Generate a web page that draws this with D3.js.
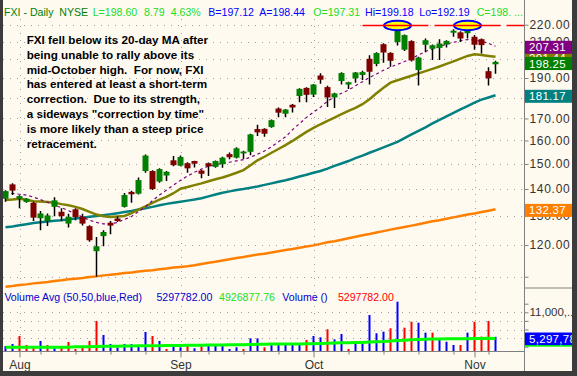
<!DOCTYPE html>
<html>
<head>
<meta charset="utf-8">
<script src="https://cdn.jsdelivr.net/npm/d3@7"></script>
<style>
  body { margin: 0; background: #fffaf0; }
  svg { display: block; font-family: Arial, "Liberation Sans", sans-serif; }
</style>
</head>
<body>
<div id="chart"></div>
<script>
// FXI daily, Jul 30 - Nov 6 2007
const dates = [
  "2007-07-30","2007-07-31",
  "2007-08-01","2007-08-02","2007-08-03","2007-08-06","2007-08-07","2007-08-08","2007-08-09","2007-08-10",
  "2007-08-13","2007-08-14","2007-08-15","2007-08-16","2007-08-17","2007-08-20","2007-08-21","2007-08-22",
  "2007-08-23","2007-08-24","2007-08-27","2007-08-28","2007-08-29","2007-08-30","2007-08-31",
  "2007-09-04","2007-09-05","2007-09-06","2007-09-07","2007-09-10","2007-09-11","2007-09-12","2007-09-13",
  "2007-09-14","2007-09-17","2007-09-18","2007-09-19","2007-09-20","2007-09-21","2007-09-24","2007-09-25",
  "2007-09-26","2007-09-27","2007-09-28",
  "2007-10-01","2007-10-02","2007-10-03","2007-10-04","2007-10-05","2007-10-08","2007-10-09","2007-10-10",
  "2007-10-11","2007-10-12","2007-10-15","2007-10-16","2007-10-17","2007-10-18","2007-10-19","2007-10-22",
  "2007-10-23","2007-10-24","2007-10-25","2007-10-26","2007-10-29","2007-10-30","2007-10-31",
  "2007-11-01","2007-11-02","2007-11-05","2007-11-06"
];

const open = [136.3,141.8,136.3,135.1,134.8,129.2,128.2,133.3,131.5,127.3,
  132.4,129.7,126.4,118.0,123.0,127.6,129.1,133.3,138.9,138.2,
  147.1,147.1,142.9,145.3,151.5,149.3,150.3,151.2,147.3,150.3,
  148.8,149.9,154.1,152.6,154.4,155.1,165.1,165.2,166.0,174.7,
  172.2,176.5,180.8,184.9,181.5,191.3,185.3,180.1,188.4,186.6,
  189.8,191.6,200.3,197.5,208.5,203.6,209.7,205.4,210.3,194.2,
  208.2,205.9,206.4,208.3,215.2,215.4,214.9,212.8,211.4,193.6,197.31];
const high = [139.5,142.2,137.6,136.5,135.2,131.8,130.9,136.9,132.8,130.8,
  132.8,130.8,126.7,122.7,125.0,128.2,129.9,138.5,139.3,144.5,
  153.9,147.4,148.2,147.1,153.3,153.5,150.7,151.3,147.6,150.6,
  151.4,153.0,154.8,157.0,155.5,163.0,167.1,165.5,169.5,175.2,
  174.5,176.9,184.7,185.2,186.9,192.5,186.0,182.4,193.0,188.1,
  193.2,193.8,202.2,203.9,209.0,204.0,220.9,214.2,210.8,201.4,
  211.8,208.3,211.3,210.8,217.2,216.0,221.5,213.9,211.8,195.7,199.18];
const low = [135.2,137.7,132.8,134.8,128.2,125.0,126.5,129.9,128.2,125.9,
  128.5,126.6,121.1,110.0,119.6,123.6,127.9,133.1,134.8,137.9,
  146.4,139.6,142.4,143.1,149.1,149.1,146.4,148.5,144.2,145.1,
  148.4,148.4,151.9,152.3,152.0,153.6,162.0,161.7,165.7,170.5,
  170.5,172.8,177.7,177.7,180.3,187.0,175.4,175.0,186.6,184.3,
  187.5,189.0,186.6,196.3,198.1,196.0,207.7,204.6,198.8,186.1,
  204.0,199.6,199.6,206.6,212.8,209.8,211.8,205.3,203.3,186.1,192.19];
const close = [139.2,139.4,137.3,136.3,129.4,130.9,130.2,135.7,129.9,129.7,
  129.6,127.3,121.6,119.6,124.4,126.6,128.2,137.7,138.0,143.5,
  153.5,140.0,147.9,146.8,149.5,152.9,148.2,150.1,146.0,149.0,
  151.2,152.6,152.8,156.6,155.2,162.7,163.6,163.0,169.2,172.7,
  174.2,175.2,184.4,181.4,186.6,189.1,180.1,182.1,192.6,187.8,
  192.9,193.1,193.3,203.5,203.8,199.2,219.8,213.8,199.4,201.0,
  210.8,207.9,208.9,210.4,216.4,211.8,219.8,208.2,208.0,189.81,198.60];

// volume in millions of shares
const volume = [3.16,3.63,5.49,3.40,2.86,4.33,3.40,2.77,2.70,4.09,
  2.47,3.00,4.33,8.98,5.72,3.63,2.86,3.63,3.63,3.16,
  6.42,5.49,4.33,2.47,3.63,2.86,3.40,2.63,3.16,3.63,
  3.16,3.63,2.47,2.86,2.47,4.95,4.95,2.86,3.63,3.63,
  3.40,3.40,3.63,4.56,5.49,5.19,7.05,4.72,5.95,2.47,
  3.63,3.63,10.37,6.12,6.49,7.28,13.47,7.42,8.81,8.58,
  6.26,6.26,4.95,4.16,3.40,3.40,6.26,8.81,5.35,8.98,5.30];
const volAvg = [2.85,2.85,2.86,2.86,2.87,2.87,2.88,2.88,2.90,2.90,
  3.00,3.00,3.00,3.05,3.10,3.10,3.10,3.15,3.15,3.20,
  3.20,3.25,3.25,3.30,3.30,3.30,3.35,3.35,3.35,3.40,
  3.40,3.40,3.45,3.45,3.45,3.50,3.55,3.55,3.60,3.60,
  3.60,3.65,3.65,3.70,3.70,3.75,3.80,3.85,3.90,3.90,
  3.95,3.95,4.10,4.15,4.20,4.30,4.45,4.50,4.60,4.70,
  4.75,4.80,4.80,4.82,4.83,4.84,4.86,4.90,4.90,4.95,4.93];

// moving averages
const ma10 = [138.6,138.3,138.0,137.7,136.9,136.0,135.0,133.9,133.0,131.9,
  130.8,129.6,128.5,127.7,127.2,127.2,127.7,128.8,129.8,131.6,
  133.3,135.6,137.7,139.6,141.5,143.4,145.1,146.6,147.9,149.1,
  149.7,150.2,150.7,151.3,151.8,152.8,154.1,155.4,157.3,159.4,
  161.6,164.8,167.6,170.5,173.0,175.3,178.3,180.4,182.2,183.8,
  186.0,188.1,190.3,192.1,194.1,195.8,197.3,198.8,200.5,202.4,
  204.4,205.8,207.1,208.6,209.6,210.5,211.2,210.9,210.2,209.0,207.3];
const ma20 = [135.8,136.0,136.3,135.9,135.4,135.3,135.1,134.8,134.3,133.9,
  133.3,132.5,131.5,130.5,129.9,129.6,129.8,130.0,131.0,132.3,
  133.5,134.8,136.0,137.0,138.4,140.1,140.8,141.5,142.2,143.0,
  143.8,144.5,145.4,146.4,147.5,149.5,151.5,153.0,154.7,156.3,
  158.0,159.8,161.8,163.8,165.6,167.3,168.9,170.4,172.0,173.6,
  175.0,176.8,179.2,182.2,185.0,187.6,188.8,190.0,191.2,192.4,
  193.6,194.8,196.1,197.5,198.9,200.4,201.9,202.8,202.4,201.9,201.4];
const ma50 = [126.0,126.3,126.7,127.1,127.5,127.8,128.0,128.3,128.5,128.8,
  129.1,129.4,129.7,130.0,130.3,130.6,131.0,131.4,131.8,132.3,
  132.8,133.3,133.9,134.4,134.8,135.2,135.6,136.0,136.5,137.2,
  137.9,138.6,139.1,139.6,140.0,140.5,141.0,141.6,142.2,142.8,
  143.4,144.1,144.9,145.6,146.4,147.1,148.1,149.2,150.2,151.2,
  152.4,153.5,154.7,155.8,157.0,158.2,159.4,161.0,162.7,164.3,
  165.9,167.7,169.3,171.0,172.6,174.3,175.9,177.6,179.0,180.1,181.2];
const ma200 = [107.0,107.2,107.5,107.7,108.0,108.2,108.4,108.7,108.9,109.2,
  109.4,109.6,109.9,110.1,110.4,110.6,110.8,111.1,111.3,111.6,
  111.8,112.0,112.3,112.5,112.8,113.0,113.2,113.5,113.9,114.3,
  114.6,115.0,115.4,115.8,116.1,116.5,116.9,117.2,117.6,118.0,
  118.4,118.7,119.1,119.5,119.9,120.4,120.9,121.3,121.8,122.3,
  122.8,123.3,123.7,124.2,124.7,125.2,125.7,126.1,126.6,127.1,
  127.6,128.1,128.5,129.0,129.5,130.0,130.5,130.9,131.4,131.9,132.4];

const priceTicks = [110,120,130,140,150,160,170,180,190,200,210,220];
const volTicks = [3,5,7,9,11,13];
const volGrid = [5,7,9,11];
const priceLabels = [
  { v: 201.44, color: "#808000" },
  { v: 207.31, color: "#800080" },
  { v: 198.25, color: "#008000" },
  { v: 181.17, color: "#008080" },
  { v: 132.37, color: "#ff8000" }
];
const volLabels = [
  { v: 4.93, text: "4,926,877", color: "#00ff00" },
  { v: 5.30, text: "5,297,782", color: "#0000ff" }
];
const resistance = 219.5;
const resistStart = 51;
const highIdx = [56, 66];

const note = [
  "FXI fell below its 20-day MA after",
  "being unable to rally above its",
  "mid-October high.  For now, FXI",
  "has entered at least a short-term",
  "correction.  Due to its strength,",
  "a sideways \"correction by time\"",
  "is more likely than a steep price",
  "retracement."
];

const W = 577, H = 376;
const axisX = 524.5, priceTop = 19, priceBottom = 288, volBottom = 351.5;

const svg = d3.select("#chart").append("svg").attr("width", W).attr("height", H);
svg.append("rect").attr("width", W).attr("height", H).attr("fill", "#fffaf0");

const n = dates.length;
const idx = d3.range(n);
const x = d3.scaleLinear().domain([0, n - 1]).range([5.5, 495.5]);
const y = d3.scaleLog().domain([110, 220]).range([276.7, 24.7]);
const yv = d3.scaleLinear().domain([2, 11]).range([351, 312.3]);

const days = dates.map(d3.timeParse("%Y-%m-%d"));
const monthIdx = idx.filter(i => i > 0 && days[i].getMonth() !== days[i - 1].getMonth());
const weekIdx = idx.filter(i => i > 0 && days[i].getDay() < days[i - 1].getDay() && !monthIdx.includes(i));

const defs = svg.append("defs");
defs.append("clipPath").attr("id", "clipP").append("rect")
  .attr("x", 3).attr("y", priceTop).attr("width", axisX - 3).attr("height", priceBottom - priceTop);
defs.append("clipPath").attr("id", "clipV").append("rect")
  .attr("x", 3).attr("y", priceBottom).attr("width", axisX - 3).attr("height", volBottom - priceBottom);

// grid
const grid = svg.append("g").attr("stroke", "#a0a0a0").attr("stroke-width", 1)
  .attr("stroke-dasharray", "1,6");
grid.selectAll("line.h").data(priceTicks).join("line").attr("class", "h")
  .attr("x1", 3).attr("x2", axisX).attr("y1", d => Math.round(y(d)) + 0.5).attr("y2", d => Math.round(y(d)) + 0.5);
grid.selectAll("line.hv").data(volGrid).join("line").attr("class", "hv")
  .attr("x1", 3).attr("x2", axisX).attr("y1", d => Math.round(yv(d)) + 0.5).attr("y2", d => Math.round(yv(d)) + 0.5);
grid.selectAll("line.v").data(monthIdx).join("line").attr("class", "v")
  .attr("x1", i => Math.round(x(i)) + 0.5).attr("x2", i => Math.round(x(i)) + 0.5)
  .attr("y1", priceTop).attr("y2", volBottom);

// moving averages
const price = svg.append("g").attr("clip-path", "url(#clipP)");
const line = d3.line().x((d, i) => x(i)).y(d => y(d));
const maStyles = [
  { data: ma200, color: "#ff8000", w: 2.5, dash: null },
  { data: ma50, color: "#008080", w: 2.5, dash: null },
  { data: ma20, color: "#808000", w: 2.5, dash: null },
  { data: ma10, color: "#800080", w: 1.2, dash: "3,3" }
];
maStyles.forEach(m => {
  price.append("path").attr("d", line(m.data)).attr("fill", "none")
    .attr("stroke", m.color).attr("stroke-width", m.w).attr("stroke-dasharray", m.dash);
});

// candles
price.selectAll("line.wick").data(idx).join("line").attr("class", "wick")
  .attr("x1", i => x(i)).attr("x2", i => x(i))
  .attr("y1", i => y(high[i])).attr("y2", i => y(low[i]))
  .attr("stroke", "#000").attr("stroke-width", 1.5);
price.selectAll("rect.body").data(idx).join("rect").attr("class", "body")
  .attr("x", i => x(i) - 3).attr("width", 6)
  .attr("y", i => y(Math.max(open[i], close[i])))
  .attr("height", i => Math.max(1.5, Math.abs(y(open[i]) - y(close[i]))))
  .attr("fill", i => close[i] >= open[i] ? "#008000" : "#800000");

// highlighted highs and resistance
price.selectAll("ellipse").data(highIdx).join("ellipse")
  .attr("cx", i => x(i)).attr("cy", y(resistance)).attr("rx", 13.5).attr("ry", 4.8)
  .attr("fill", "#ffff00").attr("stroke", "#0000ff").attr("stroke-width", 2);
price.append("line")
  .attr("x1", x(resistStart)).attr("x2", axisX).attr("y1", y(resistance)).attr("y2", y(resistance))
  .attr("stroke", "#ff0000").attr("stroke-width", 1.5).attr("stroke-dasharray", "66,6");

// volume
const vol = svg.append("g").attr("clip-path", "url(#clipV)");
vol.selectAll("rect").data(idx).join("rect")
  .attr("x", i => x(i) - 1).attr("width", 2)
  .attr("y", i => yv(volume[i])).attr("height", i => Math.max(0, yv(2) - yv(volume[i])))
  .attr("fill", i => (i === 0 || close[i] >= close[i - 1]) ? "#0000ff" : "#ff0000");
vol.append("path").attr("d", d3.line().x((d, i) => x(i)).y(d => yv(d))(volAvg))
  .attr("fill", "none").attr("stroke", "#00ff00").attr("stroke-width", 3);

// annotation
svg.append("text").attr("x", 26.7).attr("y", 44)
  .attr("font-size", "11.7px").attr("font-weight", "bold").attr("fill", "#000")
  .selectAll("tspan").data(note).join("tspan")
  .attr("x", 26.7).attr("dy", (d, i) => i === 0 ? 0 : 14.8)
  .attr("xml:space", "preserve").style("white-space", "pre").text(d => d);

// header line
const header = [
  { t: "FXI - Daily", x: 4, c: "#008000" },
  { t: "NYSE", x: 59.3, c: "#008000" },
  { t: "L=198.60", x: 92.7, c: "#22dd22" },
  { t: "8.79", x: 144, c: "#22dd22" },
  { t: "4.63%", x: 170.7, c: "#22dd22" },
  { t: "B=197.12", x: 208.3, c: "#0000ff" },
  { t: "A=198.44", x: 259.3, c: "#0000ff" },
  { t: "O=197.31", x: 313.3, c: "#22dd22" },
  { t: "Hi=199.18", x: 365, c: "#0000ff" },
  { t: "Lo=192.19", x: 419.3, c: "#0000ff" },
  { t: "C=198. ...", x: 476.7, c: "#22dd22" }
];
svg.append("g").attr("font-size", "10.6px").selectAll("text").data(header).join("text")
  .attr("x", d => d.x).attr("y", 15.5).attr("fill", d => d.c).text(d => d.t);

const volHeader = [
  { t: "Volume Avg (50,50,blue,Red)", x: 4.4, c: "#0000cc" },
  { t: "5297782.00", x: 156.4, c: "#0000cc" },
  { t: "4926877.76", x: 219, c: "#22dd22" },
  { t: "Volume ()", x: 282.3, c: "#0000cc" },
  { t: "5297782.00", x: 337.9, c: "#ff0000" }
];
svg.append("g").attr("font-size", "10.6px").selectAll("text").data(volHeader).join("text")
  .attr("x", d => d.x).attr("y", 301).attr("fill", d => d.c).text(d => d.t);

// right price axis
const pAxis = svg.append("g").attr("transform", `translate(${axisX},0)`)
  .call(d3.axisRight(y).tickValues(priceTicks).tickSize(4).tickPadding(1)
    .tickFormat(v => v === 110 ? "" : d3.format(".2f")(v)));
pAxis.select(".domain").remove();
pAxis.selectAll("line").attr("stroke", "#808080");
pAxis.selectAll("text").attr("fill", "#333").attr("font-size", "12px")
  .attr("font-family", "Arial, 'Liberation Sans', sans-serif").attr("letter-spacing", "0.7px");

const vAxis = svg.append("g").attr("transform", `translate(${axisX},0)`)
  .call(d3.axisRight(yv).tickValues(volTicks).tickSize(4).tickPadding(1)
    .tickFormat(v => v === 11 ? "11,000,..." : ""));
vAxis.select(".domain").remove();
vAxis.selectAll("line").attr("stroke", "#808080");
vAxis.selectAll("text").attr("fill", "#333").attr("font-size", "11.5px")
  .attr("font-family", "Arial, 'Liberation Sans', sans-serif");

// value boxes on the axis
const boxes = svg.append("g");
priceLabels.forEach(l => {
  const cy = y(l.v) + 1;
  boxes.append("rect").attr("x", axisX + 0.5).attr("y", cy - 6.5).attr("width", 47).attr("height", 13)
    .attr("fill", l.color);
  boxes.append("text").attr("x", axisX + 4.5).attr("y", cy + 4).attr("fill", "#fff")
    .attr("font-size", "11.5px").attr("letter-spacing", "0.3px").text(d3.format(".2f")(l.v));
});
volLabels.forEach(l => {
  const cy = yv(l.v) + 2;
  boxes.append("rect").attr("x", axisX + 0.5).attr("y", cy - 6.3).attr("width", 47).attr("height", 12.6)
    .attr("fill", l.color);
  boxes.append("text").attr("x", axisX + 4.5).attr("y", cy + 4).attr("fill", "#fff")
    .attr("font-size", "11.5px").attr("letter-spacing", "0.3px").text(l.text);
});

// frame lines
svg.append("line").attr("x1", axisX).attr("x2", axisX).attr("y1", 0).attr("y2", 371)
  .attr("stroke", "#808080");
svg.append("line").attr("x1", axisX).attr("x2", 572).attr("y1", priceBottom).attr("y2", priceBottom)
  .attr("stroke", "#808080");

// bottom date axis
const xAxisG = svg.append("g").attr("transform", `translate(0,${volBottom})`);
xAxisG.append("line").attr("x1", 3).attr("x2", axisX).attr("stroke", "#808080");
const mAxis = xAxisG.append("g")
  .call(d3.axisBottom(x).tickValues(monthIdx).tickSize(6).tickPadding(3)
    .tickFormat(i => d3.timeFormat("%b")(days[i])));
mAxis.select(".domain").remove();
xAxisG.append("g").call(d3.axisBottom(x).tickValues(weekIdx).tickSize(3).tickFormat(""))
  .select(".domain").remove();
xAxisG.selectAll("line").attr("stroke", "#808080");
mAxis.selectAll("text").attr("fill", "#333").attr("font-size", "12px")
  .attr("font-family", "Arial, 'Liberation Sans', sans-serif");

// dark window frame
svg.append("rect").attr("x", 0).attr("y", 0).attr("width", 3).attr("height", H).attr("fill", "#3c3c3c");
svg.append("rect").attr("x", 572).attr("y", 0).attr("width", 5).attr("height", H).attr("fill", "#3c3c3c");
svg.append("rect").attr("x", 0).attr("y", 371).attr("width", W).attr("height", 5).attr("fill", "#3c3c3c");
</script>
</body>
</html>
